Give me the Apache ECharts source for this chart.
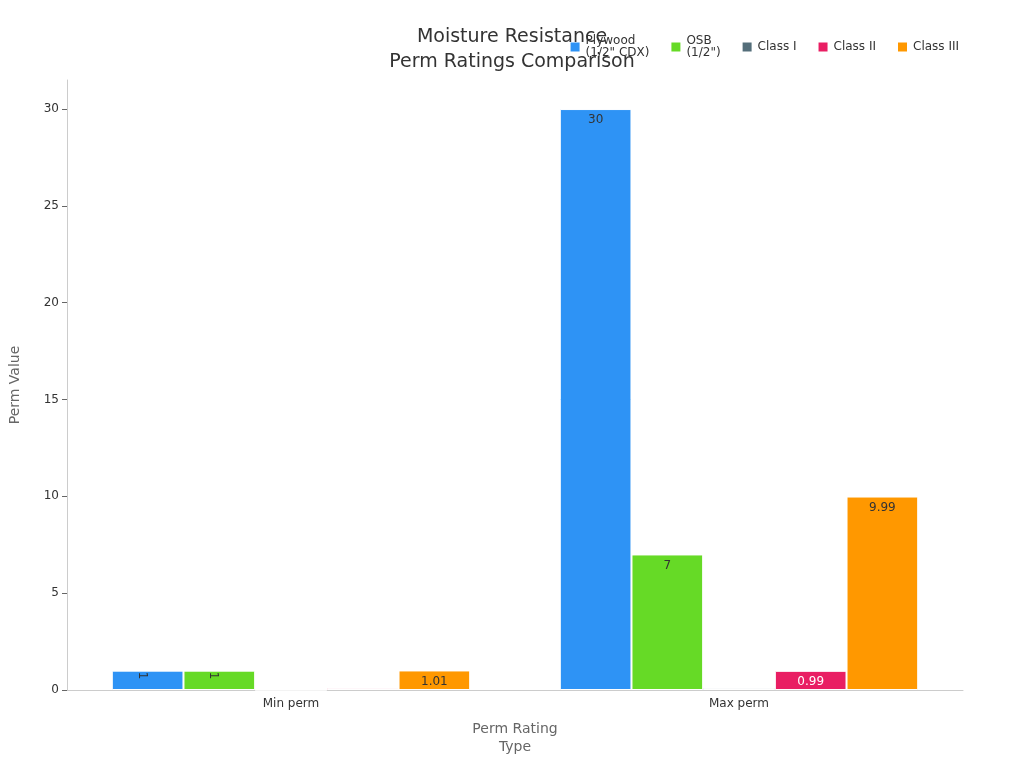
<!DOCTYPE html>
<html><head><meta charset="utf-8">
<script src="https://cdn.jsdelivr.net/npm/echarts@6/dist/echarts.min.js"></script>
<style>html,body{margin:0;padding:0;background:#fff}#c{width:1024px;height:768px}</style>
</head><body><div id="c"></div>
<script>
const categories = ["Min perm", "Max perm"];
const seriesNames = ["Plywood\n(1/2\" CDX)", "OSB\n(1/2\")", "Class I", "Class II", "Class III"];
const plywood = [1, 30];
const osb = [1, 7];
const class1 = [0, 0.1];
const class2 = [0.1, 0.99];
const class3 = [1.01, 9.99];
const colors = ["#2E93F5", "#66DA26", "#546E7A", "#E91E63", "#FF9800"];
const values = [plywood, osb, class1, class2, class3];
const chart = echarts.init(document.getElementById('c'));
chart.setOption({
  animation: false,
  title: { text: "Moisture Resistance\nPerm Ratings Comparison", left: 'center', top: 20,
    textStyle: { fontFamily: 'DejaVu Sans', fontSize: 19, fontWeight: 'normal', color: '#333', lineHeight: 25 } },
  legend: { top: 30, right: 60, itemWidth: 11, itemHeight: 11, itemGap: 20, icon: 'rect',
    textStyle: { fontFamily: 'DejaVu Sans', fontSize: 12, color: '#333' } },
  grid: { left: 60, right: 61, top: 80, bottom: 78 },
  xAxis: { type: 'category', data: categories, name: 'Perm Rating\nType', nameLocation: 'middle', nameGap: 30,
    nameTextStyle: { fontFamily: 'DejaVu Sans', fontSize: 14, color: '#666', lineHeight: 18 },
    axisLine: { lineStyle: { color: '#ccc' } }, axisTick: { alignWithLabel: true, lineStyle: { color: '#666' } },
    axisLabel: { fontFamily: 'DejaVu Sans', fontSize: 12, color: '#333' } },
  yAxis: { type: 'value', min: 0, max: 31.5, interval: 5, name: 'Perm Value', nameLocation: 'middle', nameGap: 45,
    nameTextStyle: { fontFamily: 'DejaVu Sans', fontSize: 14, color: '#666' },
    axisLine: { show: true, lineStyle: { color: '#ccc' } }, axisTick: { show: true, lineStyle: { color: '#666' } },
    splitLine: { show: false },
    axisLabel: { fontFamily: 'DejaVu Sans', fontSize: 12, color: '#333', showMaxLabel: false } },
  series: seriesNames.map((n, i) => ({
    name: n, type: 'bar', barGap: 0, barCategoryGap: '20%',
    itemStyle: { color: colors[i], borderColor: '#fff', borderWidth: 1 },
    data: values[i].map(v => ({ value: v, label: { rotate: v === 1 ? -90 : 0 } })),
    label: { show: true, position: 'insideTop', fontFamily: 'DejaVu Sans', fontSize: 12,
      color: i === 3 ? '#fff' : '#333',
      formatter: p => (p.value === 0 || p.value === 0.1) ? '' : String(p.value) }
  }))
});
</script></body></html>
